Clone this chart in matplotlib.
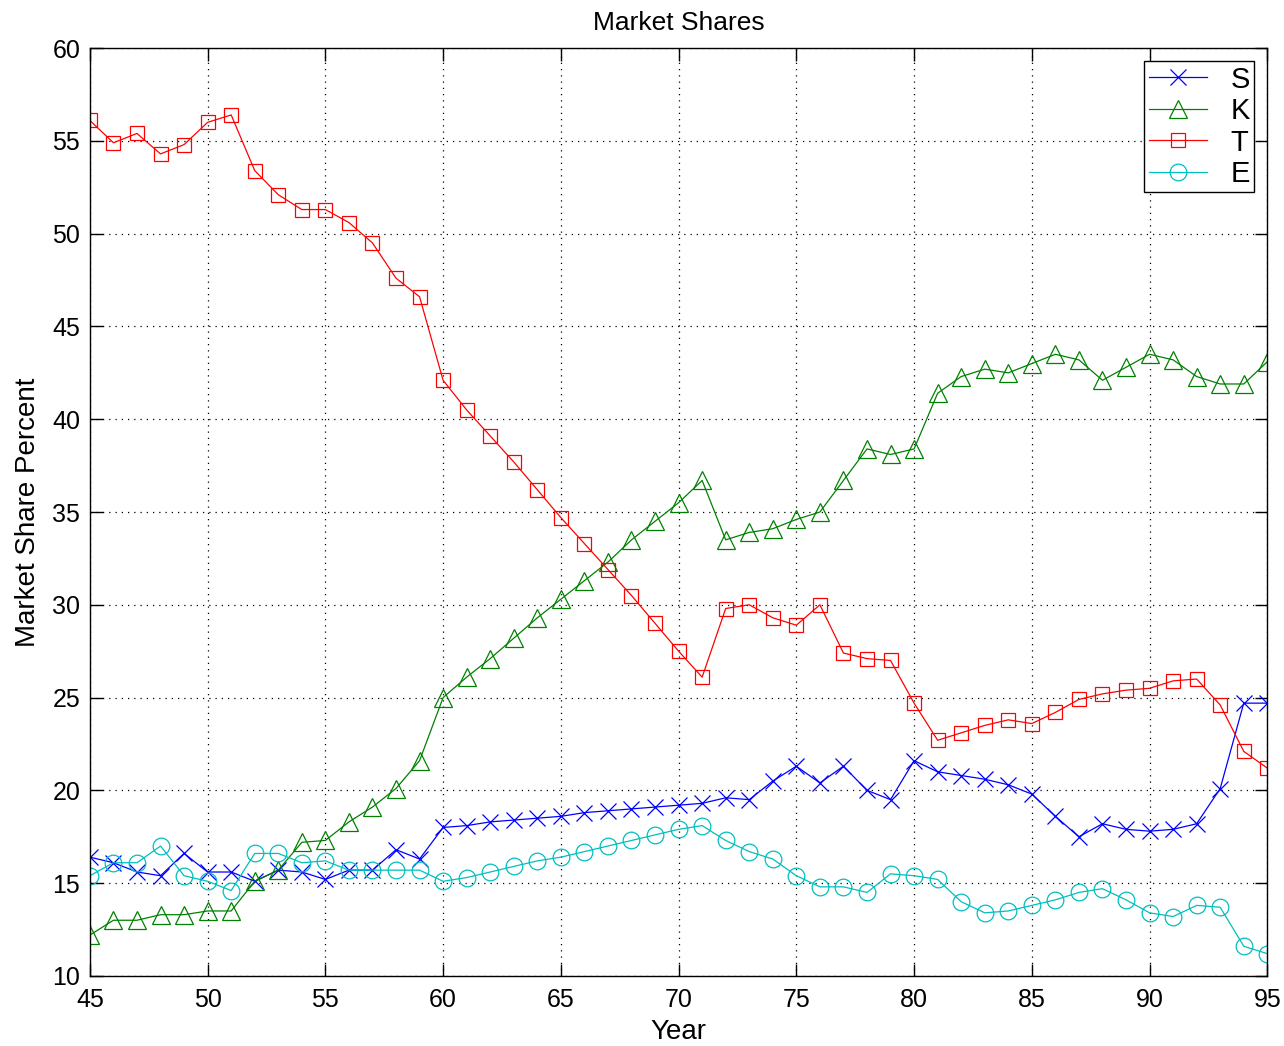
import numpy as np
import matplotlib.pyplot as plt

plt.rcParams['font.family'] = ['Liberation Sans', 'DejaVu Sans']

years = np.arange(45, 96)

share_s = [16.4, 16.1, 15.6, 15.4, 16.6, 15.6, 15.6, 15.1, 15.7, 15.6,
           15.2, 15.7, 15.7, 16.8, 16.3, 18.0, 18.1, 18.3, 18.4, 18.5,
           18.6, 18.8, 18.9, 19.0, 19.1, 19.2, 19.3, 19.6, 19.5, 20.5,
           21.3, 20.4, 21.3, 20.0, 19.5, 21.6, 21.0, 20.8, 20.6, 20.3,
           19.8, 18.6, 17.5, 18.2, 17.9, 17.8, 17.9, 18.2, 20.1, 24.7,
           24.7]
share_k = [12.2, 13.0, 13.0, 13.3, 13.3, 13.5, 13.5, 15.1, 15.7, 17.2,
           17.3, 18.3, 19.1, 20.1, 21.6, 25.0, 26.1, 27.1, 28.2, 29.3,
           30.3, 31.3, 32.3, 33.5, 34.5, 35.5, 36.7, 33.5, 33.9, 34.1,
           34.6, 35.0, 36.7, 38.4, 38.1, 38.4, 41.4, 42.3, 42.7, 42.5,
           43.0, 43.5, 43.2, 42.1, 42.8, 43.5, 43.2, 42.3, 41.9, 41.9,
           43.1]
share_t = [56.1, 54.9, 55.4, 54.3, 54.8, 56.0, 56.4, 53.4, 52.1, 51.3,
           51.3, 50.6, 49.5, 47.6, 46.6, 42.1, 40.5, 39.1, 37.7, 36.2,
           34.7, 33.3, 31.9, 30.5, 29.0, 27.5, 26.1, 29.8, 30.0, 29.3,
           28.9, 30.0, 27.4, 27.1, 27.0, 24.7, 22.7, 23.1, 23.5, 23.8,
           23.6, 24.2, 24.9, 25.2, 25.4, 25.5, 25.9, 26.0, 24.6, 22.1,
           21.2]
share_e = [15.4, 16.1, 16.1, 17.0, 15.4, 15.1, 14.6, 16.6, 16.6, 16.1,
           16.2, 15.7, 15.7, 15.7, 15.7, 15.1, 15.3, 15.6, 15.9, 16.2,
           16.4, 16.7, 17.0, 17.3, 17.6, 17.9, 18.1, 17.3, 16.7, 16.3,
           15.4, 14.8, 14.8, 14.5, 15.5, 15.4, 15.2, 14.0, 13.4, 13.5,
           13.8, 14.1, 14.5, 14.7, 14.1, 13.4, 13.2, 13.8, 13.7, 11.6,
           11.2]

fig = plt.figure(figsize=(12.84, 10.46), dpi=100)
ax = fig.add_axes([0.070, 0.067, 0.917, 0.887])

ax.plot(years, share_s, color='#0000ff', marker='x', ms=11, mew=0.9, lw=0.9, label='S')
ax.plot(years, share_k, color='#008000', marker='^', ms=13, mfc='none', mew=0.9, lw=0.9, label='K')
ax.plot(years, share_t, color='#ff0000', marker='s', ms=10, mfc='none', mew=0.9, lw=0.9, label='T')
ax.plot(years, share_e, color='#00bfbf', marker='o', ms=12, mfc='none', mew=0.9, lw=0.9, label='E')

ax.set_xlim(45, 95)
ax.set_ylim(10, 60)
ax.set_xticks(np.arange(45, 96, 5))
ax.set_yticks(np.arange(10, 61, 5))
ax.grid(True, color='black', linestyle=(0, (1, 4)), linewidth=0.9)
ax.tick_params(direction='in', length=9, width=1, labelsize=18, top=True, right=True)
ax.tick_params(axis='x', pad=9)
ax.tick_params(axis='y', pad=7)
for sp in ax.spines.values():
    sp.set_linewidth(1)

ax.set_title('Market Shares', fontsize=19, pad=13)
ax.set_xlabel('Year', fontsize=20, labelpad=5)
ax.set_ylabel('Market Share Percent', fontsize=20, labelpad=8)

leg = ax.legend(loc='upper right', fontsize=21, fancybox=False, framealpha=1,
                edgecolor='black', handlelength=2.0, borderaxespad=0.45,
                borderpad=0.15, labelspacing=0.12, handletextpad=0.8)
leg.get_frame().set_linewidth(1)

fig.savefig('out.png', dpi=100)
